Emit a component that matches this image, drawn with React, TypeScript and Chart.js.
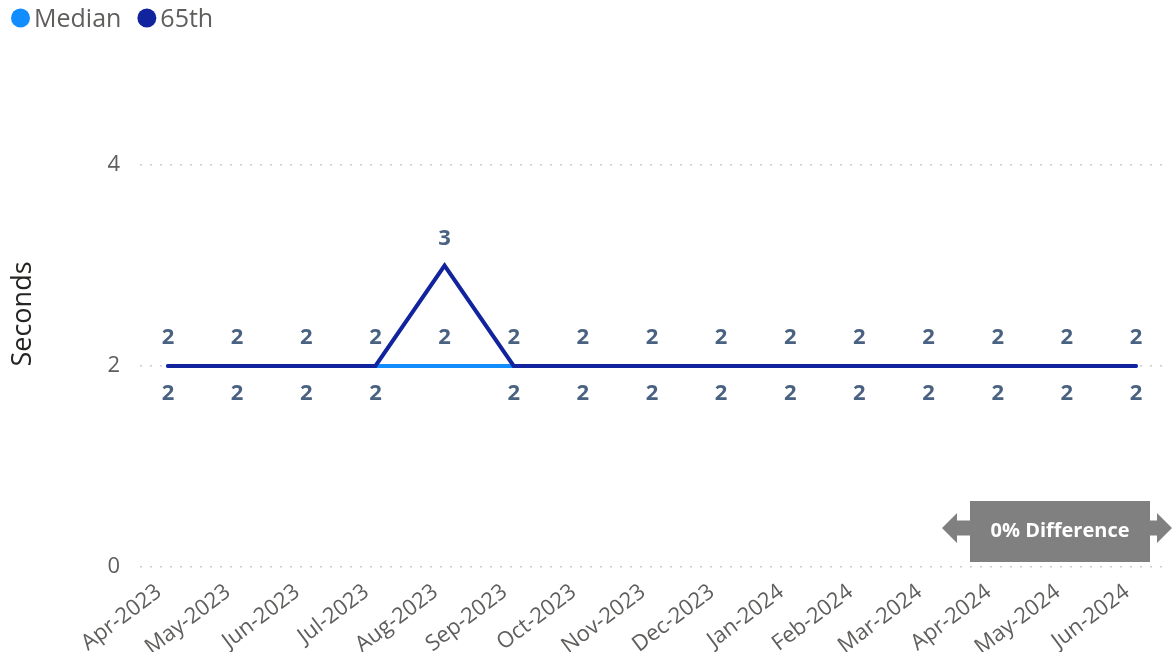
import React, { useEffect, useRef } from "react";
import { Chart, registerables } from "chart.js";

Chart.register(...registerables);

const months = [
  "Apr-2023", "May-2023", "Jun-2023", "Jul-2023", "Aug-2023", "Sep-2023", "Oct-2023",
  "Nov-2023", "Dec-2023", "Jan-2024", "Feb-2024", "Mar-2024", "Apr-2024", "May-2024", "Jun-2024",
];
const medianValues = [2, 2, 2, 2, 2, 2, 2, 2, 2, 2, 2, 2, 2, 2, 2];
const p65Values = [2, 2, 2, 2, 3, 2, 2, 2, 2, 2, 2, 2, 2, 2, 2];
const yTickValues = [0, 2, 4];
const seriesNames = ["Median", "65th"];
const seriesColors = ["#118DFF", "#12239E"];
const yTitle = "Seconds";

const FONT = "'Segoe UI', 'Open Sans', sans-serif";

const lastMedian = medianValues[medianValues.length - 1];
const lastP65 = p65Values[p65Values.length - 1];
const diffText = `${Math.round(((lastP65 - lastMedian) / lastMedian) * 100)}% Difference`;

const legendPlugin = {
  id: "customLegend",
  afterDraw(chart: any) {
    const ctx = chart.ctx;
    ctx.save();
    ctx.font = `25px ${FONT}`;
    ctx.textBaseline = "alphabetic";
    ctx.textAlign = "left";
    let x = 11;
    chart.data.datasets.forEach((ds: any) => {
      ctx.fillStyle = ds.borderColor;
      ctx.beginPath();
      ctx.arc(x + 9.5, 18, 9.5, 0, Math.PI * 2);
      ctx.fill();
      ctx.fillStyle = "#605E5C";
      ctx.fillText(ds.label, x + 23, 27);
      x += 23 + ctx.measureText(ds.label).width + 16;
    });
    ctx.restore();
  },
};

const yTitlePlugin = {
  id: "yTitle",
  afterDraw(chart: any) {
    const ctx = chart.ctx;
    ctx.save();
    ctx.translate(23, 314);
    ctx.rotate(-Math.PI / 2);
    ctx.font = `27px ${FONT}`;
    ctx.fillStyle = "#252423";
    ctx.textAlign = "center";
    ctx.textBaseline = "middle";
    ctx.fillText(yTitle, 0, 0);
    ctx.restore();
  },
};

const dataLabelPlugin = {
  id: "dataLabels",
  afterDatasetsDraw(chart: any) {
    const ctx = chart.ctx;
    ctx.save();
    ctx.font = `bold 22px ${FONT}`;
    ctx.fillStyle = "#4A6282";
    ctx.textAlign = "center";
    ctx.textBaseline = "middle";
    const metaMed = chart.getDatasetMeta(0);
    const metaP = chart.getDatasetMeta(1);
    metaMed.data.forEach((pt: any, i: number) => {
      ctx.fillText(String(medianValues[i]), pt.x, pt.y - 28);
    });
    metaP.data.forEach((pt: any, i: number) => {
      if (p65Values[i] > medianValues[i]) {
        ctx.fillText(String(p65Values[i]), pt.x, pt.y - 27);
      } else {
        ctx.fillText(String(p65Values[i]), pt.x, pt.y + 28);
      }
    });
    ctx.restore();
  },
};

const diffPlugin = {
  id: "diffBox",
  afterDraw(chart: any) {
    const ctx = chart.ctx;
    const right = chart.chartArea.right;
    const bottom = chart.chartArea.bottom;
    const boxR = right - 15;
    const boxL = boxR - 180;
    const boxT = bottom - 66;
    const boxB = bottom - 5;
    const cy = bottom - 39;
    ctx.save();
    ctx.fillStyle = "#808080";
    ctx.fillRect(boxL, boxT, boxR - boxL, boxB - boxT);
    // left arrow
    ctx.beginPath();
    ctx.moveTo(boxL, cy - 7.5);
    ctx.lineTo(boxL - 13, cy - 7.5);
    ctx.lineTo(boxL - 13, cy - 15);
    ctx.lineTo(boxL - 28, cy);
    ctx.lineTo(boxL - 13, cy + 15);
    ctx.lineTo(boxL - 13, cy + 7.5);
    ctx.lineTo(boxL, cy + 7.5);
    ctx.closePath();
    ctx.fill();
    // right arrow
    ctx.beginPath();
    ctx.moveTo(boxR, cy - 7.5);
    ctx.lineTo(boxR + 7, cy - 7.5);
    ctx.lineTo(boxR + 7, cy - 15);
    ctx.lineTo(boxR + 22, cy);
    ctx.lineTo(boxR + 7, cy + 15);
    ctx.lineTo(boxR + 7, cy + 7.5);
    ctx.lineTo(boxR, cy + 7.5);
    ctx.closePath();
    ctx.fill();
    ctx.fillStyle = "#FFFFFF";
    ctx.font = `bold 20px ${FONT}`;
    ctx.textAlign = "center";
    ctx.textBaseline = "middle";
    ctx.fillText(diffText, (boxL + boxR) / 2, (boxT + boxB) / 2);
    ctx.restore();
  },
};

export default function App() {
  const canvasRef = useRef<HTMLCanvasElement | null>(null);

  useEffect(() => {
    if (!canvasRef.current) return;
    const chart = new Chart(canvasRef.current, {
      type: "line",
      data: {
        datasets: [
          {
            label: seriesNames[0],
            data: medianValues.map((v, i) => ({ x: i, y: v })),
            borderColor: seriesColors[0],
            backgroundColor: seriesColors[0],
            borderWidth: 4,
            pointRadius: 0,
            pointHoverRadius: 0,
            tension: 0,
            borderCapStyle: "round",
            order: 2,
          },
          {
            label: seriesNames[1],
            data: p65Values.map((v, i) => ({ x: i, y: v })),
            borderColor: seriesColors[1],
            backgroundColor: seriesColors[1],
            borderWidth: 4,
            pointRadius: 0,
            pointHoverRadius: 0,
            tension: 0,
            borderCapStyle: "round",
            order: 1,
          },
        ],
      },
      options: {
        animation: false,
        responsive: false,
        events: [],
        layout: { padding: { top: 165, right: 10, left: 0, bottom: 0 } },
        plugins: {
          legend: { display: false },
          tooltip: { enabled: false },
        },
        scales: {
          x: {
            type: "linear",
            min: -0.405,
            max: 14.42,
            afterBuildTicks: (scale: any) => {
              scale.ticks = months.map((_, i) => ({ value: i }));
            },
            afterFit: (scale: any) => {
              scale.height = 85;
            },
            grid: { display: false },
            border: { display: false },
            ticks: {
              autoSkip: false,
              maxRotation: 37,
              minRotation: 37,
              padding: 4,
              labelOffset: -9,
              color: "#605E5C",
              font: { family: FONT, size: 22 },
              callback: (v: any) => months[v] ?? "",
            },
          },
          y: {
            min: 0,
            max: 4,
            afterBuildTicks: (scale: any) => {
              scale.ticks = yTickValues.map((v) => ({ value: v }));
            },
            afterFit: (scale: any) => {
              scale.width = 140;
            },
            grid: { color: "#CCCCCC", lineWidth: 1.5, drawTicks: false },
            border: { display: false, dash: [2, 8] },
            title: { display: false },
            ticks: {
              padding: 20,
              color: "#605E5C",
              font: { family: FONT, size: 22 },
            },
          },
        },
      },
      plugins: [dataLabelPlugin, diffPlugin, legendPlugin, yTitlePlugin],
    } as any);
    return () => chart.destroy();
  }, []);

  return (
    <div style={{ position: "absolute", left: 0, top: 0, width: 1175, height: 652, background: "#fff" }}>
      <canvas ref={canvasRef} width={1175} height={652} style={{ width: 1175, height: 652 }} />
    </div>
  );
}
